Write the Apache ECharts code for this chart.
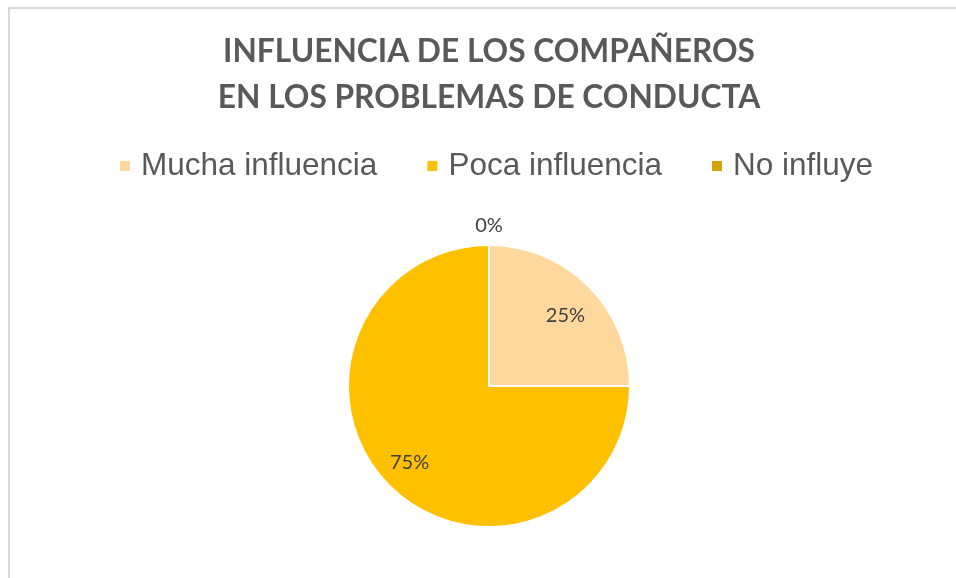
<!DOCTYPE html>
<html>
<head>
<meta charset="utf-8">
<script src="https://cdn.jsdelivr.net/npm/echarts@6/dist/echarts.min.js"></script>
<style>
    html, body { margin: 0; padding: 0; background: #fff; }
    #frame {
        position: absolute; left: 8px; top: 7px; width: 948px; height: 571px;
        border-top: 2px solid #d9d9d9; border-left: 2px solid #d9d9d9;
    }
    #chart { position: absolute; left: 0; top: 0; width: 956px; height: 578px; }
</style>
</head>
<body>
<div id="frame"></div>
<div id="chart"></div>
<script>
// Chart data
var categories = ['Mucha influencia', 'Poca influencia', 'No influye'];
var values = [25, 75, 0];
var colors = ['#FFD89E', '#FFC000', '#D5A300'];
var titleLines = ['INFLUENCIA DE LOS COMPAÑEROS', 'EN LOS PROBLEMAS DE CONDUCTA'];

var R = 141;
// small nudges so the labels sit where the original puts them
var labelOffsets = [[-2, 8], [-1, -2], [0, 0]];

function buildData(showIdx, transparent) {
    var d = [];
    for (var i = 0; i < categories.length; i++) {
        d.push({
            name: categories[i],
            value: values[i],
            itemStyle: { color: transparent ? 'rgba(0,0,0,0)' : colors[i] },
            label: { show: showIdx.indexOf(i) >= 0, offset: labelOffsets[i] }
        });
    }
    return d;
}

var pie_chart = echarts.init(document.getElementById('chart'));

var labelStyle = {
    position: 'inside',
    formatter: '{d}%',
    color: '#404040',
    fontFamily: 'Lato',
    fontSize: 20
};

var option_pie = {
    animation: false,
    title: {
        text: titleLines.join('\n'),
        left: 489,
        textAlign: 'center',
        top: 29,
        padding: 0,
        textStyle: {
            fontFamily: 'Lato',
            fontWeight: 'bold',
            fontSize: 31.7,
            lineHeight: 46,
            color: '#595959'
        }
    },
    legend: {
        data: categories,
        left: 118,
        top: 150,
        padding: 0,
        icon: 'rect',
        itemWidth: 12,
        itemHeight: 12,
        itemGap: 48,
        selectedMode: false,
        textStyle: {
            fontFamily: 'Liberation Sans',
            fontSize: 31.5,
            color: '#595959',
            padding: [0, 0, 0, 5]
        }
    },
    series: [
        {
            name: 'main',
            type: 'pie',
            center: [489, 386],
            radius: [0, R],
            startAngle: 90,
            clockwise: true,
            silent: true,
            itemStyle: { borderColor: '#fff', borderWidth: 2 },
            label: { show: false },
            labelLine: { show: false },
            data: buildData([], false)
        },
        {
            // labels for the visible slices
            name: 'labels',
            type: 'pie',
            center: [489, 386],
            radius: [R * 0.5, R * 1.03],
            startAngle: 90,
            clockwise: true,
            silent: true,
            itemStyle: { borderWidth: 0 },
            label: labelStyle,
            labelLine: { show: false },
            data: buildData([0, 1], true)
        },
        {
            // label for the empty slice, just outside the pie
            name: 'zeroLabel',
            type: 'pie',
            center: [489, 386],
            radius: [R, R + 32],
            startAngle: 90,
            clockwise: true,
            silent: true,
            itemStyle: { borderWidth: 0 },
            label: labelStyle,
            labelLine: { show: false },
            data: buildData([2], true)
        }
    ]
};

pie_chart.setOption(option_pie);
</script>
</body>
</html>
